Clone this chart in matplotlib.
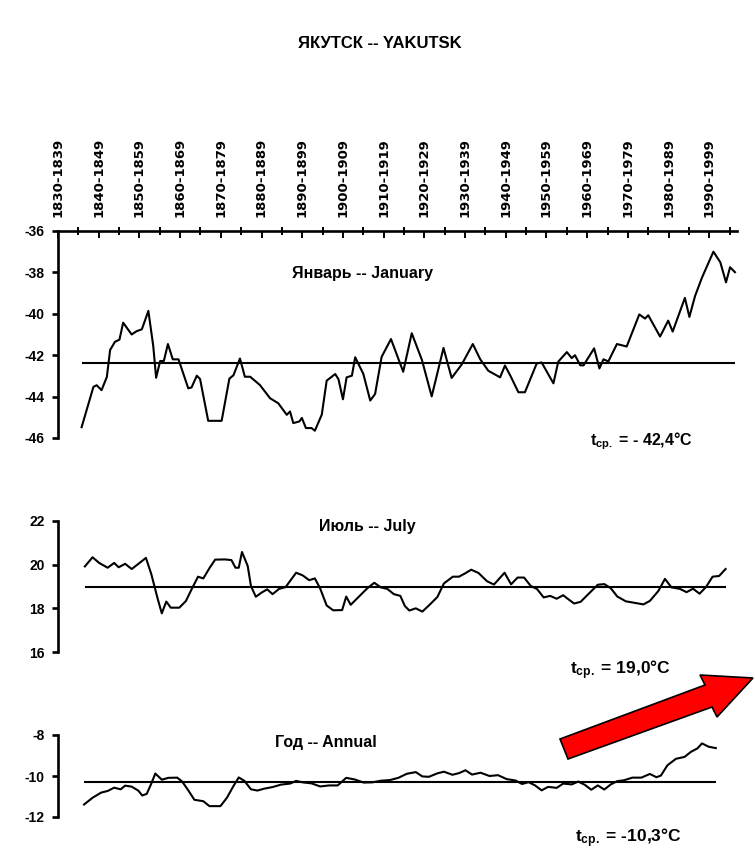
import matplotlib
matplotlib.use("Agg")
import matplotlib.pyplot as plt
from matplotlib.patches import Polygon

# ------------------- figure geometry (pixels of the scan) ------------------- #
W, H = 755, 850
XLIM = (1830, 1996.8)

plt.rcParams["font.family"] = ["Liberation Sans", "DejaVu Sans"]
plt.rcParams["axes.unicode_minus"] = False
plt.rcParams["mathtext.fontset"] = "custom"
plt.rcParams["mathtext.rm"] = "Liberation Sans:bold"
plt.rcParams["mathtext.it"] = "Liberation Sans:bold"
plt.rcParams["mathtext.bf"] = "Liberation Sans:bold"

# ------------------- data -------------------------------------------------- #
DECADES = [1830, 1840, 1850, 1860, 1870, 1880, 1890, 1900, 1910,
           1920, 1930, 1940, 1950, 1960, 1970, 1980, 1990]
DECADE_LABELS = ["1830-1839", "1840-1849", "1850-1859", "1860-1869",
                 "1870-1879", "1880-1889", "1890-1899", "1900-1909",
                 "1910-1919", "1920-1929", "1930-1939", "1940-1949",
                 "1950-1959", "1960-1969", "1970-1979", "1980-1989",
                 "1990-1999"]
HALF_DECADES = [1835, 1845, 1855, 1865, 1875, 1885, 1895, 1905, 1915,
                1925, 1935, 1945, 1955, 1965, 1975, 1985, 1995]

# January
jan_years = [1835.8, 1838.7, 1839.5, 1840.7, 1842.0, 1842.8, 1844.0, 1845.1,
             1846.0, 1848.1, 1849.3, 1850.6, 1852.2, 1853.4, 1854.1, 1855.1,
             1856.0, 1857.0, 1858.2, 1859.6, 1862.0, 1862.8, 1864.1, 1864.9,
             1866.9, 1870.2, 1872.1, 1873.1, 1874.7, 1875.9, 1877.2, 1879.6,
             1882.1, 1884.1, 1886.2, 1887.0, 1887.8, 1889.3, 1889.9, 1890.9,
             1892.3, 1893.1, 1894.8, 1896.0, 1898.1, 1898.9, 1900.0, 1900.9,
             1902.2, 1903.0, 1905.0, 1906.7, 1907.9, 1909.5, 1911.8, 1914.8,
             1916.9, 1919.4, 1921.8, 1924.7, 1926.7, 1929.2, 1931.9, 1933.7,
             1935.7, 1938.6, 1939.8, 1941.1, 1943.1, 1944.7, 1947.6, 1948.8,
             1951.7, 1952.9, 1955.0, 1956.2, 1957.0, 1958.3, 1959.1, 1961.7,
             1963.0, 1964.0, 1965.2, 1967.3, 1969.7, 1972.8, 1974.2, 1975.0,
             1977.9, 1979.9, 1981.0, 1984.0, 1985.1, 1986.5, 1988.2, 1991.0,
             1992.7, 1994.1, 1995.1, 1996.3]
jan_temp = [-45.48, -43.53, -43.45, -43.69, -43.05, -41.75, -41.35, -41.25,
            -40.43, -41.00, -40.84, -40.75, -39.86, -41.56, -43.09, -42.28,
            -42.28, -41.46, -42.20, -42.20, -43.60, -43.56, -42.99, -43.15,
            -45.17, -45.17, -43.13, -42.97, -42.16, -43.04, -43.04, -43.44,
            -44.08, -44.32, -44.88, -44.72, -45.28, -45.20, -45.03, -45.52,
            -45.52, -45.65, -44.87, -43.23, -42.91, -43.16, -44.13, -43.07,
            -42.99, -42.10, -42.90, -44.19, -43.87, -42.08, -41.22, -42.80,
            -40.94, -42.23, -43.99, -41.65, -43.10, -42.44, -41.46, -42.19,
            -42.75, -43.07, -42.50, -42.98, -43.79, -43.79, -42.40, -42.35,
            -43.36, -42.31, -41.85, -42.14, -42.00, -42.49, -42.49, -41.67,
            -42.64, -42.20, -42.30, -41.46, -41.58, -40.03, -40.23, -40.07,
            -41.10, -40.33, -40.86, -39.23, -40.15, -39.14, -38.25, -37.00,
            -37.51, -38.48, -37.75, -37.99]
JAN_MEAN = -42.4

# July
jul_years = [1836.6, 1838.5, 1840.1, 1842.2, 1843.8, 1844.9, 1846.5, 1848.1,
             1849.7, 1851.6, 1852.9, 1854.5, 1855.5, 1856.6, 1857.7, 1859.8,
             1861.4, 1863.0, 1864.4, 1865.7, 1867.2, 1868.6, 1871.0, 1872.6,
             1873.6, 1874.4, 1875.2, 1876.6, 1877.4, 1878.6, 1880.0, 1881.4,
             1882.7, 1884.3, 1885.9, 1888.5, 1890.1, 1891.7, 1893.1, 1894.4,
             1896.0, 1897.6, 1899.8, 1900.8, 1901.9, 1904.0, 1906.1, 1907.7,
             1909.3, 1910.9, 1912.5, 1914.1, 1915.2, 1916.3, 1917.9, 1919.5,
             1921.1, 1923.2, 1924.8, 1927.0, 1928.5, 1930.1, 1931.5, 1933.3,
             1935.4, 1937.1, 1939.7, 1941.3, 1942.9, 1944.5, 1946.1, 1947.7,
             1949.3, 1950.9, 1952.5, 1954.1, 1955.2, 1956.8, 1958.4, 1960.0,
             1962.6, 1964.2, 1965.8, 1967.4, 1969.5, 1971.7, 1973.8, 1975.4,
             1977.5, 1979.1, 1980.7, 1982.8, 1984.4, 1986.0, 1987.6, 1989.2,
             1990.8, 1992.4, 1994.0]
jul_temp = [19.92, 20.34, 20.08, 19.86, 20.08, 19.88, 20.04, 19.80,
            20.03, 20.31, 19.58, 18.43, 17.77, 18.31, 18.03, 18.03,
            18.33, 18.94, 19.45, 19.37, 19.84, 20.23, 20.24, 20.21,
            19.86, 19.86, 20.58, 19.94, 19.02, 18.53, 18.72, 18.87,
            18.65, 18.89, 18.97, 19.63, 19.51, 19.29, 19.37, 18.91,
            18.13, 17.91, 17.92, 18.54, 18.16, 18.55, 18.94, 19.17,
            18.96, 18.89, 18.65, 18.57, 18.11, 17.90, 18.00, 17.85,
            18.13, 18.52, 19.14, 19.45, 19.45, 19.61, 19.77, 19.62,
            19.24, 19.09, 19.63, 19.10, 19.41, 19.41, 19.03, 18.88,
            18.50, 18.57, 18.44, 18.60, 18.44, 18.22, 18.30, 18.60,
            19.08, 19.11, 18.92, 18.54, 18.32, 18.25, 18.18, 18.34,
            18.80, 19.35, 18.96, 18.89, 18.74, 18.90, 18.67, 18.98,
            19.45, 19.48, 19.80]
JUL_MEAN = 19.0

# Annual
ann_years = [1836.4, 1838.5, 1840.6, 1842.2, 1843.8, 1845.4, 1846.5, 1848.1,
             1849.7, 1850.7, 1851.8, 1852.9, 1853.9, 1855.5, 1857.1, 1859.3,
             1860.5, 1861.9, 1863.5, 1865.7, 1867.2, 1869.9, 1871.5, 1873.1,
             1874.4, 1875.8, 1877.4, 1879.0, 1880.6, 1882.7, 1884.8, 1887.0,
             1888.5, 1890.1, 1892.3, 1894.4, 1896.6, 1898.7, 1900.8, 1902.9,
             1905.1, 1907.2, 1909.3, 1911.5, 1913.6, 1915.7, 1917.9, 1919.5,
             1921.1, 1923.2, 1924.8, 1926.9, 1928.5, 1930.1, 1931.7, 1933.8,
             1936.0, 1938.1, 1940.2, 1942.4, 1944.0, 1945.6, 1947.2, 1948.8,
             1950.4, 1952.5, 1954.1, 1956.2, 1957.8, 1959.4, 1961.0, 1962.6,
             1964.2, 1965.8, 1967.4, 1969.0, 1971.1, 1973.3, 1975.4, 1977.0,
             1978.1, 1979.7, 1981.8, 1983.9, 1985.5, 1987.1, 1988.2, 1989.8,
             1991.6]
ann_temp = [-11.39, -11.06, -10.81, -10.73, -10.57, -10.65, -10.47, -10.52,
            -10.71, -10.95, -10.87, -10.38, -9.88, -10.18, -10.09, -10.08,
            -10.27, -10.67, -11.16, -11.23, -11.47, -11.47, -11.06, -10.49,
            -10.07, -10.24, -10.65, -10.71, -10.62, -10.54, -10.42, -10.37,
            -10.24, -10.31, -10.36, -10.51, -10.46, -10.46, -10.09, -10.17,
            -10.32, -10.31, -10.23, -10.20, -10.09, -9.89, -9.81, -10.02,
            -10.04, -9.87, -9.79, -9.94, -9.86, -9.72, -9.93, -9.84,
            -10.00, -9.96, -10.15, -10.22, -10.39, -10.30, -10.46, -10.70,
            -10.53, -10.58, -10.37, -10.41, -10.27, -10.43, -10.67, -10.46,
            -10.66, -10.41, -10.25, -10.21, -10.08, -10.08, -9.90, -10.06,
            -9.98, -9.48, -9.16, -9.07, -8.82, -8.65, -8.41, -8.57,
            -8.64]
ANN_MEAN = -10.3

# --------------------------- helpers --------------------------------------- #
LW = 1.5
SPINE_LW = 1.9


def px_axes(fig, left, right, top, bottom):
    return fig.add_axes([left / W, 1 - bottom / H,
                         (right - left) / W, (bottom - top) / H])


def fx(x):
    return x / W


def fy(y):
    return 1 - y / H


def style_panel(ax, ylim, yticks):
    ax.set_xlim(*XLIM)
    ax.set_ylim(*ylim)
    ax.set_yticks(yticks)
    ax.set_yticklabels([f"{t:g}" for t in yticks])
    for s in ("right", "bottom", "top"):
        ax.spines[s].set_visible(False)
    ax.spines["left"].set_linewidth(SPINE_LW)
    ax.tick_params(axis="y", direction="out", length=4.5, width=SPINE_LW,
                   pad=5, labelsize=10)
    for lab in ax.get_yticklabels():
        lab.set_fontweight("bold")
    ax.patch.set_alpha(0)


# ----------------------------- figure -------------------------------------- #
fig = plt.figure(figsize=(W / 100, H / 100), dpi=100)

# January
ax1 = px_axes(fig, 58, 737, 231, 438)
style_panel(ax1, (-46, -36), [-46, -44, -42, -40, -38, -36])
ax1.spines["top"].set_visible(True)
ax1.spines["top"].set_linewidth(SPINE_LW)
ax1.xaxis.tick_top()
ax1.set_xticks(DECADES)
ax1.set_xticklabels(DECADE_LABELS, rotation=90, fontsize=9.5,
                    family="DejaVu Sans", fontweight="bold")
ax1.set_xticks(HALF_DECADES, minor=True)
ax1.tick_params(axis="x", which="major", direction="in", length=5,
                width=1.4, pad=10)
ax1.tick_params(axis="x", which="minor", direction="inout", length=6,
                width=1.4)
ax1.plot(jan_years, jan_temp, color="black", lw=LW, clip_on=False)
ax1.hlines(JAN_MEAN, jan_years[0], jan_years[-1], color="black", lw=LW)

# July
ax2 = px_axes(fig, 58, 737, 521, 652)
style_panel(ax2, (16, 22), [16, 18, 20, 22])
ax2.set_xticks([])
ax2.plot(jul_years, jul_temp, color="black", lw=LW, clip_on=False)
ax2.hlines(JUL_MEAN, jul_years[0], jul_years[-1], color="black", lw=LW)

# Annual
ax3 = px_axes(fig, 58, 737, 735, 817)
style_panel(ax3, (-12, -8), [-12, -10, -8])
ax3.set_xticks([])
ax3.plot(ann_years, ann_temp, color="black", lw=LW, clip_on=False)
ax3.hlines(ANN_MEAN, ann_years[0], ann_years[-1], color="black", lw=LW)

# texts
fig.text(fx(380), fy(43), "ЯКУТСК -- YAKUTSK", ha="center", va="center",
         fontsize=12, fontweight="bold")
fig.text(fx(362), fy(274), "Январь -- January", ha="center", va="center",
         fontsize=11.5, fontweight="bold")
fig.text(fx(367), fy(527), "Июль -- July", ha="center", va="center",
         fontsize=11.5, fontweight="bold")
fig.text(fx(326), fy(742), "Год -- Annual", ha="center", va="center",
         fontsize=11.5, fontweight="bold")

fig.text(fx(590), fy(441), "t$_{ср.}$ = - 42,4°C", ha="left", va="center",
         fontsize=11.5, fontweight="bold")
fig.text(fx(570), fy(670), "t$_{ср.}$ = 19,0°C", ha="left", va="center",
         fontsize=12.5, fontweight="bold")
fig.text(fx(575), fy(838), "t$_{ср.}$ = -10,3°C", ha="left", va="center",
         fontsize=12.5, fontweight="bold")

# red arrow
arrow_px = [(560, 739), (705, 685), (700, 675), (753, 678),
            (717, 717), (712, 707), (568, 759)]
arrow = Polygon([(fx(x), fy(y)) for x, y in arrow_px], closed=True,
                transform=fig.transFigure, facecolor="#ff0000",
                edgecolor="black", lw=1.2, zorder=10)
fig.patches.append(arrow)

fig.savefig("out.png", dpi=100)
